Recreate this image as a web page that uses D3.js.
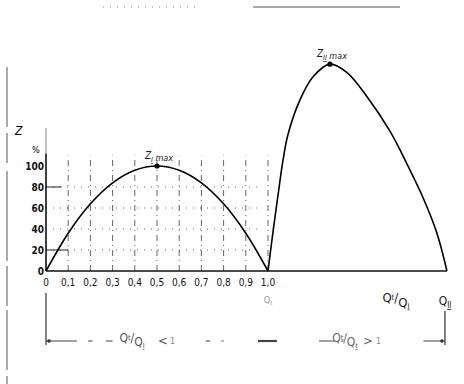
<!DOCTYPE html>
<html>
<head>
<meta charset="utf-8">
<script src="https://cdn.jsdelivr.net/npm/d3@7"></script>
<style>
  body { margin: 0; background: #fff; }
  svg { display: block; font-family: "DejaVu Sans Condensed", "Liberation Sans Narrow", sans-serif; }
</style>
</head>
<body>
<div id="chart"></div>
<script>
// ratio Q_t/Q_I and efficiency Z (%)
var ratioI = [0, 0.1, 0.2, 0.3, 0.4, 0.5, 0.6, 0.7, 0.8, 0.9, 1.0];
var zI = [0, 36, 64, 84, 96, 100, 96, 84, 64, 36, 0];

var ratioII = [1.0, 1.012, 1.023, 1.045, 1.068, 1.09, 1.144, 1.203, 1.279, 1.356, 1.446, 1.55, 1.626, 1.698, 1.761, 1.806];
var zII = [0, 20, 38, 72, 106, 130, 163, 185, 197, 189, 166, 133, 102, 70, 36, 0];

var xTicks = [0, 0.1, 0.2, 0.3, 0.4, 0.5, 0.6, 0.7, 0.8, 0.9, 1.0];
var xTickLabels = ["0", "0,1", "0,2", "0,3", "0,4", "0,5", "0,6", "0,7", "0,8", "0,9", "1,0"];
var yTicks = [0, 20, 40, 60, 80, 100];
var gridY = [20, 40, 60, 80];

var width = 464, height = 384;

var svg = d3.select("#chart").append("svg")
    .attr("width", width)
    .attr("height", height);

var x = d3.scaleLinear().domain([0, 1]).range([46, 268]);
var y = d3.scaleLinear().domain([0, 100]).range([271, 166]);

// scan artefacts: page edge and top rules
svg.append("line").attr("x1", 7).attr("x2", 7).attr("y1", 67).attr("y2", 384)
    .style("stroke", "#555").style("stroke-width", 1).style("stroke-dasharray", "60,6,30,8,90,5,40,4");
svg.append("line").attr("x1", 103).attr("x2", 200).attr("y1", 7).attr("y2", 7)
    .style("stroke", "#888").style("stroke-width", 1).style("stroke-dasharray", "1,6");
svg.append("line").attr("x1", 253).attr("x2", 400).attr("y1", 7).attr("y2", 7)
    .style("stroke", "#555").style("stroke-width", 1);

// grid
svg.selectAll(".vgrid")
    .data(xTicks.slice(1))
    .enter().append("line")
    .attr("class", "vgrid")
    .attr("x1", function(d) { return x(d); })
    .attr("x2", function(d) { return x(d); })
    .attr("y1", y(0))
    .attr("y2", y(110))
    .style("stroke", "#555")
    .style("stroke-width", 0.9)
    .style("stroke-dasharray", "6,4,1,4");

svg.selectAll(".hgrid")
    .data(gridY)
    .enter().append("line")
    .attr("class", "hgrid")
    .attr("x1", x(0))
    .attr("x2", x(0.95))
    .attr("y1", function(d) { return y(d); })
    .attr("y2", function(d) { return y(d); })
    .style("stroke", "#555")
    .style("stroke-width", 0.9)
    .style("stroke-dasharray", "1,6");

// short solid ticks at 20 and 80
svg.selectAll(".ytickline")
    .data([20, 80])
    .enter().append("line")
    .attr("x1", x(0))
    .attr("x2", function(d) { return d == 80 ? x(0.07) : x(0.1); })
    .attr("y1", function(d) { return y(d); })
    .attr("y2", function(d) { return y(d); })
    .style("stroke", "#222").style("stroke-width", 1);

// axes
svg.append("line")
    .attr("x1", x(0)).attr("x2", x(1.806))
    .attr("y1", y(0)).attr("y2", y(0))
    .style("stroke", "#111").style("stroke-width", 1.6);
svg.append("line")
    .attr("x1", x(0)).attr("x2", x(0))
    .attr("y1", y(0)).attr("y2", y(112))
    .style("stroke", "#111").style("stroke-width", 1.6);
svg.append("line")
    .attr("x1", x(0)).attr("x2", x(0))
    .attr("y1", y(112)).attr("y2", y(136))
    .style("stroke", "#888").style("stroke-width", 1);

// tick labels
svg.selectAll(".xlab")
    .data(xTicks)
    .enter().append("text")
    .attr("x", function(d) { return x(d); })
    .attr("y", y(0) + 15)
    .style("text-anchor", "middle")
    .style("font-size", "10px")
    .style("fill", "#111")
    .text(function(d, i) { return xTickLabels[i]; });

svg.selectAll(".ylab")
    .data(yTicks)
    .enter().append("text")
    .attr("x", x(0) - 2)
    .attr("y", function(d) { return y(d) + 4; })
    .style("text-anchor", "end")
    .style("font-size", "10px")
    .style("font-weight", "bold")
    .style("fill", "#111")
    .text(function(d) { return d; });

svg.append("text").attr("x", 15).attr("y", 135)
    .style("font-size", "12px").style("font-style", "italic").text("Z");
svg.append("text").attr("x", 32).attr("y", 153)
    .style("font-size", "9px").text("%");

// curves
var line = d3.line()
    .x(function(d) { return x(d[0]); })
    .y(function(d) { return y(d[1]); })
    .curve(d3.curveCatmullRom.alpha(0.5));

svg.append("path")
    .datum(d3.zip(ratioI, zI))
    .attr("d", line)
    .style("fill", "none").style("stroke", "#000").style("stroke-width", 1.6);

svg.append("path")
    .datum(d3.zip(ratioII, zII))
    .attr("d", line)
    .style("fill", "none").style("stroke", "#000").style("stroke-width", 1.6);

// maxima
var peaks = [
  { r: 0.5, z: 100, sub: "I" },
  { r: 1.279, z: 197, sub: "II" }
];
svg.selectAll(".peak")
    .data(peaks)
    .enter().append("circle")
    .attr("cx", function(d) { return x(d.r); })
    .attr("cy", function(d) { return y(d.z); })
    .attr("r", 2.6)
    .style("fill", "#000");

var peakLab = svg.selectAll(".peaklab")
    .data(peaks)
    .enter().append("text")
    .attr("x", function(d) { return x(d.r) + 2; })
    .attr("y", function(d) { return y(d.z) - 7; })
    .style("text-anchor", "middle")
    .style("font-size", "10px")
    .style("font-style", "italic")
    .style("fill", "#222");
peakLab.append("tspan").text("Z");
peakLab.append("tspan")
    .attr("dy", 3)
    .style("font-size", "7px")
    .style("text-decoration", "underline")
    .text(function(d) { return d.sub; });
peakLab.append("tspan")
    .attr("dy", -1)
    .style("font-size", "9px")
    .text(" max");

// helper for Q_a/Q_b labels
function fracLabel(g, px, py, a, b, size, col) {
  var t = g.append("text")
      .attr("x", px).attr("y", py)
      .style("text-anchor", "middle")
      .style("font-size", size + "px")
      .style("fill", col);
  t.append("tspan").text("Q");
  t.append("tspan").attr("dy", -size * 0.15).style("font-size", (size * 0.6) + "px").text(a);
  t.append("tspan").attr("dy", size * 0.15).text("/");
  t.append("tspan").attr("dy", size * 0.35).text("Q");
  t.append("tspan").attr("dy", size * 0.15).style("font-size", (size * 0.6) + "px")
      .style("text-decoration", "underline").text(b);
  return t;
}

fracLabel(svg, 396, 302, "t", "I", 13, "#222");

var qII = svg.append("text").attr("x", 445).attr("y", 305)
    .style("text-anchor", "middle").style("font-size", "12px").style("fill", "#222");
qII.append("tspan").text("Q");
qII.append("tspan").attr("dy", 3).style("font-size", "8px")
    .style("text-decoration", "underline").text("II");

var qt = svg.append("text").attr("x", x(1)).attr("y", 303)
    .style("text-anchor", "middle").style("font-size", "9px").style("fill", "#999");
qt.append("tspan").text("Q");
qt.append("tspan").attr("dy", 2).style("font-size", "6px").text("t");

// range annotation below axis
var ay = 341;
svg.append("line").attr("x1", x(0)).attr("x2", x(0)).attr("y1", 293).attr("y2", ay + 4)
    .style("stroke", "#333").style("stroke-width", 1.2);
svg.append("line").attr("x1", x(1.806) - 2).attr("x2", x(1.806) - 2).attr("y1", 311).attr("y2", ay + 4)
    .style("stroke", "#333").style("stroke-width", 1.2);

var segs = [[0, 0.14], [0.19, 0.21], [0.27, 0.3], [0.72, 0.74], [0.79, 0.8], [0.955, 1.04],
            [1.23, 1.3], [1.33, 1.34], [1.70, 1.797]];
svg.selectAll(".seg")
    .data(segs)
    .enter().append("line")
    .attr("x1", function(d) { return x(d[0]); })
    .attr("x2", function(d) { return x(d[1]); })
    .attr("y1", ay).attr("y2", ay)
    .style("stroke", "#444")
    .style("stroke-width", function(d) { return d[0] > 0.9 && d[0] < 1 ? 2.2 : 1; });

svg.append("circle").attr("cx", x(0) + 3).attr("cy", ay).attr("r", 1.8).style("fill", "#333");
svg.append("circle").attr("cx", x(1.806) - 5).attr("cy", ay).attr("r", 1.8).style("fill", "#333");

fracLabel(svg, 132, ay + 1, "t", "I", 12, "#555");
svg.append("text").attr("x", 158).attr("y", ay + 4).style("font-size", "13px").style("fill", "#555").text("<");
svg.append("text").attr("x", 170).attr("y", ay + 3).style("font-size", "9px").style("fill", "#888").text("1");

fracLabel(svg, 345, ay + 1, "t", "t", 12, "#666");
svg.append("text").attr("x", 363).attr("y", ay + 4).style("font-size", "13px").style("fill", "#666").text(">");
svg.append("text").attr("x", 376).attr("y", ay + 3).style("font-size", "9px").style("fill", "#888").text("1");
</script>
</body>
</html>
